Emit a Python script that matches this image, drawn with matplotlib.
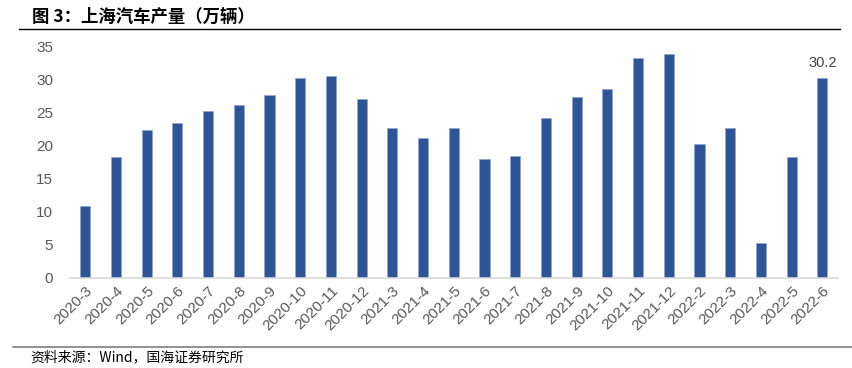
import matplotlib
matplotlib.use("Agg")
import matplotlib.pyplot as plt
import numpy as np

plt.rcParams['font.family'] = ['Noto Sans CJK SC', 'DejaVu Sans']

months = ["2020-3", "2020-4", "2020-5", "2020-6", "2020-7", "2020-8", "2020-9",
          "2020-10", "2020-11", "2020-12", "2021-3", "2021-4", "2021-5", "2021-6",
          "2021-7", "2021-8", "2021-9", "2021-10", "2021-11", "2021-12", "2022-2",
          "2022-3", "2022-4", "2022-5", "2022-6"]
output = [10.9, 18.3, 22.4, 23.5, 25.2, 26.1, 27.6, 30.2, 30.6, 27.0, 22.7, 21.2,
          22.6, 18.0, 18.5, 24.2, 27.3, 28.6, 33.3, 33.9, 20.2, 22.6, 5.3, 18.3, 30.2]

fig = plt.figure(figsize=(8.53, 3.68), dpi=100)
ax = fig.add_axes([0.082, 0.245, 0.9, 0.6285])

x = np.arange(len(months))
ax.bar(x, output, width=0.33, color='#2e5597', edgecolor='#8ea6cf', linewidth=0.5)
ax.text(x[-1], output[-1] + 1.2, f"{output[-1]:.1f}", ha='center', va='bottom',
        fontsize=10.5, color='#404040', family='Liberation Sans')

ax.set_xlim(-0.5, len(months) - 0.5)
ax.set_ylim(0, 35)
ax.set_yticks(range(0, 36, 5))
ax.set_xticks(x)
ax.set_xticklabels(months, rotation=45, ha='right', rotation_mode='anchor',
                   family='Liberation Sans')
for lab in ax.get_yticklabels():
    lab.set_family('Liberation Sans')
ax.tick_params(axis='both', length=0, labelsize=11, colors='#595959')
ax.tick_params(axis='y', pad=12)
ax.tick_params(axis='x', pad=4)
for s in ['top', 'right', 'left']:
    ax.spines[s].set_visible(False)
ax.spines['bottom'].set_color('#d9d9d9')
ax.spines['bottom'].set_linewidth(1.2)

fig.text(0.037, 0.955, "图 3：上海汽车产量（万辆）", fontsize=12.5, fontweight='bold',
         ha='left', va='center', color='black')
fig.add_artist(plt.Line2D([0.022, 0.985], [0.922, 0.922], color='black', linewidth=1.0))
fig.add_artist(plt.Line2D([0.015, 1.0], [0.057, 0.057], color='#7f7f7f', linewidth=1.2))
fig.text(0.036, 0.028, "资料来源：Wind，国海证券研究所", fontsize=10, ha='left',
         va='center', color='black')

fig.savefig("out.png", dpi=100)
